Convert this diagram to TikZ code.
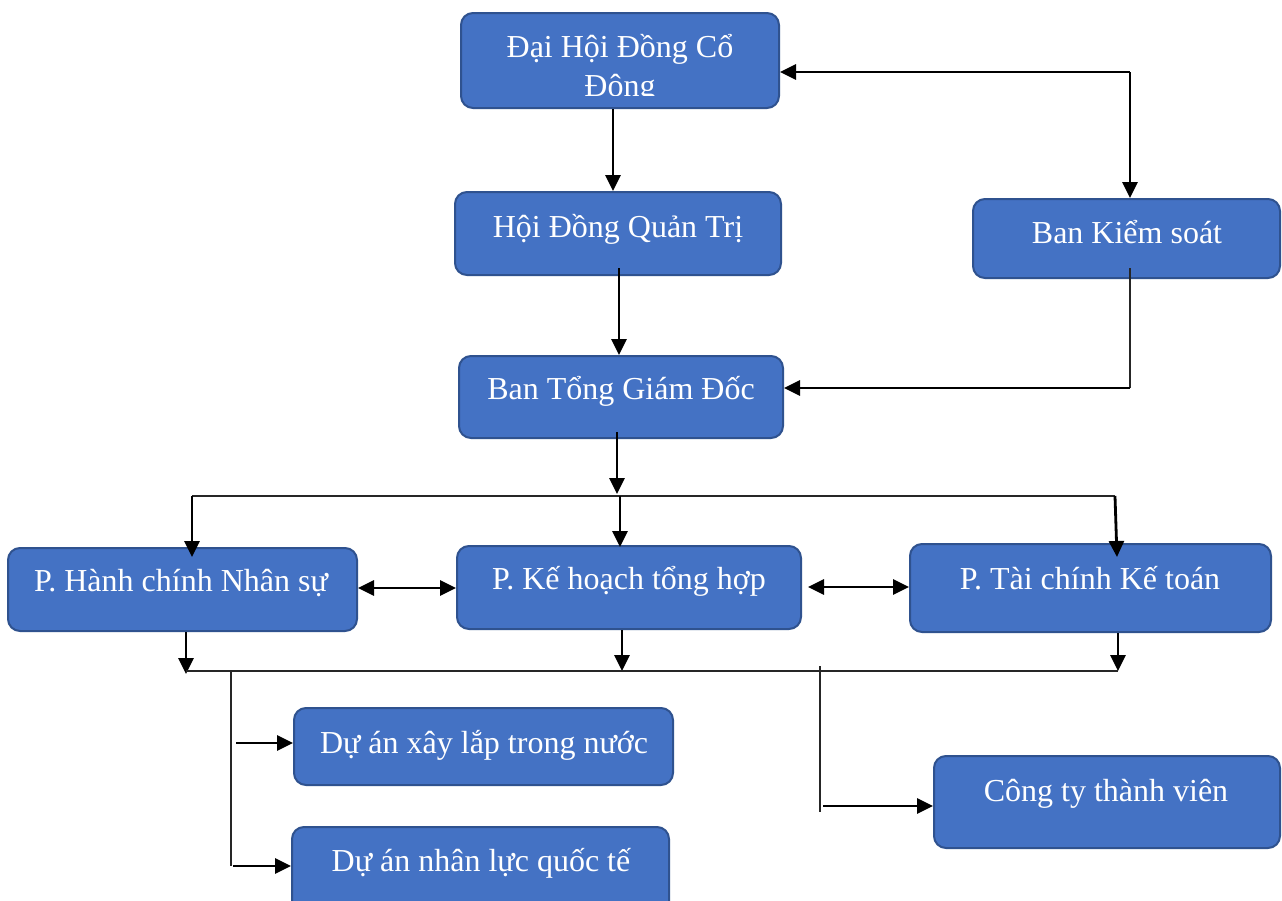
\documentclass[tikz,border=0pt]{standalone}
\usepackage{fontspec}
\setmainfont{Liberation Serif}
\usetikzlibrary{arrows.meta}
\definecolor{boxfill}{HTML}{4472C4}
\definecolor{boxline}{HTML}{2F528F}
\tikzset{
  orgbox/.style={draw=boxline, fill=boxfill, line width=1pt, rounded corners=6pt, inner sep=0pt},
  lbl/.style={anchor=base, text=white, inner sep=0pt, font=\fontsize{16pt}{19pt}\selectfont},
  conn/.style={line width=1.4pt, -{Triangle[length=8pt,width=7.5pt]}},
  conntwo/.style={line width=1.4pt, {Triangle[length=8pt,width=7.5pt]}-{Triangle[length=8pt,width=7.5pt]}},
  bus/.style={line width=0.6pt, draw=black!85}
}
\begin{document}
\begin{tikzpicture}[x=0.5pt,y=-0.5pt]
\useasboundingbox (0,0) rectangle (1282,901);
\fill[white] (0,0) rectangle (1282,901);
\clip (0,0) rectangle (1282,901);

% boxes
\node[orgbox, minimum width=159pt, minimum height=47.5pt] (dhdcd) at (620,60.5) {};
\node[orgbox, minimum width=163pt, minimum height=41.5pt] (hdqt) at (618,233.5) {};
\node[orgbox, minimum width=153.5pt, minimum height=39.5pt] (bks) at (1126.5,238.5) {};
\node[orgbox, minimum width=162pt, minimum height=41pt] (btgd) at (621,397) {};
\node[orgbox, minimum width=174.5pt, minimum height=41.5pt] (phcns) at (182.5,589.5) {};
\node[orgbox, minimum width=172pt, minimum height=41.5pt] (pkhth) at (629,587.5) {};
\node[orgbox, minimum width=180.5pt, minimum height=44pt] (ptckt) at (1090.5,588) {};
\node[orgbox, minimum width=189.5pt, minimum height=38.5pt] (daxl) at (483.5,746.5) {};
\node[orgbox, minimum width=188.5pt, minimum height=44pt] (danl) at (480.5,871) {};
\node[orgbox, minimum width=173pt, minimum height=46pt] (cttv) at (1107,802) {};

% texts
\node[lbl] (t-dhdcd) at (620,57) {Đại Hội Đồng Cổ};
\begin{scope}
  \clip (461,13) rectangle (779,95);
  \node[lbl] (t-dhdcd2) at (620,96) {Đông};
\end{scope}
\node[lbl] (t-hdqt) at (618,237) {Hội Đồng Quản Trị};
\node[lbl] (t-bks) at (1127,243) {Ban Kiểm soát};
\node[lbl] (t-btgd) at (621,399) {Ban Tổng Giám Đốc};
\node[lbl] (t-phcns) at (181,591) {P. Hành chính Nhân sự};
\node[lbl] (t-pkhth) at (629,589) {P. Kế hoạch tổng hợp};
\node[lbl] (t-ptckt) at (1090,589) {P. Tài chính Kế toán};
\node[lbl] (t-daxl) at (484,753) {Dự án xây lắp trong nước};
\node[lbl] (t-danl) at (481,871) {Dự án nhân lực quốc tế};
\node[lbl] (t-cttv) at (1106,801) {Công ty thành viên};

% top connectors
\draw[conn] (613,0 |- dhdcd.south) -- (613,0 |- hdqt.north);
\coordinate (c1) at (1130,72);
\draw[conn] (c1) -- (dhdcd.east |- c1);
\draw[conn] (c1) -- (c1 |- bks.north);
\draw[conn] (619,268) -- (619,0 |- btgd.north);
\coordinate (c2) at (1130,388);
\draw[bus] (1130,268) -- (c2);
\draw[conn] (c2) -- (btgd.east |- c2);

% bus 1
\coordinate (b1l) at (192,496);
\coordinate (b1m) at (620,496);
\coordinate (b1r) at (1115,496);
\draw[conn] (617,432) -- (617,494);
\draw[bus] (b1l) -- (b1r);
\coordinate (p1) at (192,557);
\coordinate (p2) at (620,547);
\coordinate (p3) at (1117,557);
\draw[conn] (b1l) -- (p1);
\draw[conn] (b1m) -- (p2);
\draw[conn] (b1r) -- (p3);

% double arrows
\draw[conntwo] (phcns.east |- 0,588) -- (pkhth.west |- 0,588);
\draw[conntwo] ([xshift=3pt]pkhth.east |- 0,587) -- (ptckt.west |- 0,587);

% bus 2
\coordinate (b2l) at (186,671);
\coordinate (b2m) at (622,671);
\coordinate (b2r) at (1118,671);
\draw[conn] (b2l |- phcns.south) -- (186,674);
\draw[conn] (b2m |- pkhth.south) -- (b2m);
\draw[conn] (b2r |- ptckt.south) -- (b2r);
\draw[bus] (b2l) -- (b2r);

% left branch
\coordinate (v1t) at (231,671);
\coordinate (v1b) at (231,866);
\draw[bus] (v1t) -- (v1b);
\coordinate (a1) at (236,743);
\draw[conn] (a1) -- (daxl.west |- a1);
\coordinate (a2) at (233,866);
\draw[conn] (a2) -- (danl.west |- a2);

% right branch
\coordinate (v2t) at (820,666);
\coordinate (v2b) at (820,812);
\draw[bus] (v2t) -- (v2b);
\coordinate (a3) at (823,806);
\draw[conn] (a3) -- (cttv.west |- a3);
\end{tikzpicture}
\end{document}
